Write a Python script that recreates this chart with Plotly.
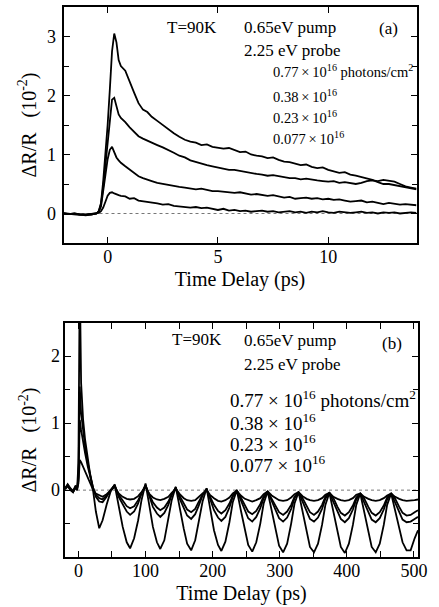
import plotly.graph_objects as go

# ---------------- Panel (a) data: time delay (ps) and dR/R (1e-2) ----------------
t_a = [-2.0, -1.75, -1.5, -1.25, -1.0, -0.75, -0.5,
       -0.4, -0.3, -0.2, -0.1, 0.0, 0.1, 0.2, 0.3, 0.4, 0.5, 0.6,
       0.8, 1.0, 1.2, 1.4, 1.6, 1.8, 2.0,
       2.25, 2.5, 2.75, 3.0, 3.25, 3.5, 3.75, 4.0, 4.25, 4.5, 4.75, 5.0,
       5.25, 5.5, 5.75, 6.0, 6.25, 6.5, 6.75, 7.0, 7.25, 7.5, 7.75, 8.0,
       8.25, 8.5, 8.75, 9.0, 9.25, 9.5, 9.75, 10.0, 10.25, 10.5, 10.75, 11.0,
       11.25, 11.5, 11.75, 12.0, 12.25, 12.5, 12.75, 13.0, 13.25, 13.5, 13.75, 14.0]

a_077 = [0.00, -0.01, 0.00, -0.02, -0.03, -0.02, 0.00,
         0.04, 0.18, 0.55, 1.0, 1.5, 2.1, 2.75, 3.05, 2.9, 2.6, 2.5,
         2.42, 2.22, 2.05, 1.87, 1.76, 1.72, 1.64,
         1.57, 1.5, 1.42, 1.36, 1.3, 1.25, 1.22, 1.2, 1.16, 1.17, 1.13, 1.12,
         1.1, 1.11, 1.07, 1.04, 1.05, 1.0, 0.98, 0.97, 0.94, 0.95, 0.91, 0.88,
         0.87, 0.84, 0.82, 0.83, 0.79, 0.77, 0.78, 0.74, 0.72, 0.69, 0.7, 0.66,
         0.64, 0.62, 0.6, 0.57, 0.53, 0.5, 0.5, 0.48, 0.47, 0.45, 0.43, 0.41]

a_038 = [0.00, -0.01, -0.01, -0.02, -0.02, -0.01, 0.00,
         0.04, 0.16, 0.45, 0.8, 1.2, 1.6, 1.93, 1.96, 1.8, 1.68, 1.62,
         1.55, 1.46, 1.38, 1.31, 1.27, 1.24, 1.2,
         1.16, 1.12, 1.08, 1.03, 0.98, 0.95, 0.9, 0.87, 0.84, 0.82, 0.8, 0.78,
         0.77, 0.74, 0.74, 0.72, 0.7, 0.69, 0.67, 0.66, 0.64, 0.65, 0.63, 0.62,
         0.6, 0.6, 0.58, 0.59, 0.57, 0.56, 0.55, 0.54, 0.55, 0.52, 0.53, 0.51,
         0.5, 0.52, 0.55, 0.56, 0.55, 0.57, 0.56, 0.54, 0.5, 0.46, 0.44, 0.42]

a_023 = [0.00, -0.01, 0.00, -0.02, -0.02, -0.02, 0.00,
         0.03, 0.12, 0.35, 0.65, 0.92, 1.08, 1.13, 1.05, 0.95, 0.9, 0.86,
         0.8, 0.74, 0.68, 0.63, 0.6, 0.57, 0.55,
         0.52, 0.5, 0.48, 0.46, 0.45, 0.44, 0.42, 0.41, 0.42, 0.4, 0.38, 0.38,
         0.37, 0.36, 0.35, 0.36, 0.34, 0.32, 0.33, 0.31, 0.3, 0.31, 0.29, 0.27,
         0.28, 0.25, 0.26, 0.27, 0.25, 0.26, 0.24, 0.25, 0.23, 0.24, 0.22, 0.2,
         0.21, 0.22, 0.19, 0.2, 0.18, 0.16, 0.18, 0.17, 0.15, 0.16, 0.15, 0.14]

a_0077 = [0.00, -0.01, -0.01, -0.02, -0.02, -0.01, 0.00,
          0.01, 0.04, 0.1, 0.2, 0.3, 0.35, 0.36, 0.34, 0.32, 0.31, 0.3,
          0.29, 0.25, 0.26, 0.22, 0.21, 0.2, 0.18,
          0.17, 0.15, 0.16, 0.13, 0.12, 0.12, 0.1, 0.11, 0.09, 0.1, 0.08, 0.06,
          0.08, 0.05, 0.06, 0.04, 0.05, 0.03, 0.04, 0.05, 0.03, 0.04, 0.02, 0.03,
          0.04, 0.02, 0.03, 0.01, 0.03, 0.02, 0.04, 0.02, 0.01, 0.03, 0.02, 0.01,
          0.02, 0.03, 0.01, 0.02, 0.0, 0.02, 0.01, 0.02, 0.0, 0.01, 0.02, 0.01]

# ---------------- Panel (b) data ----------------
t_b = [-20, -16, -12, -8, -4, -2, 0, 2, 4, 7, 10, 14, 18, 22, 26, 31, 36, 42, 48, 54,
       60, 66, 72, 77, 83, 89, 94, 100,
       106, 111, 117, 122, 128, 134, 139, 145,
       151, 157, 162, 168, 174, 179, 185, 191,
       196, 202, 208, 213, 219, 225, 230, 236,
       242, 248, 253, 259, 265, 271, 276, 282,
       288, 294, 299, 305, 311, 317, 322, 328,
       334, 340, 345, 351, 357, 363, 368, 374,
       380, 386, 391, 397, 403, 409, 414, 420,
       426, 432, 437, 443, 449, 455, 460, 466,
       472, 478, 483, 489, 495, 501, 506]

b_077 = [0.02, 0.07, 0.01, -0.03, 0.05, 0.0, 0.4, 3.2, 1.6, 1.05, 0.75, 0.45, 0.2, -0.02, -0.32, -0.57, -0.45, -0.22, -0.02, 0.08,
         -0.25, -0.55, -0.78, -0.87, -0.72, -0.45, -0.15, 0.1,
         -0.25, -0.55, -0.78, -0.88, -0.75, -0.45, -0.15, 0.05,
         -0.28, -0.58, -0.8, -0.9, -0.75, -0.47, -0.17, 0.03,
         -0.28, -0.6, -0.82, -0.91, -0.77, -0.48, -0.18, 0.0,
         -0.3, -0.6, -0.82, -0.92, -0.78, -0.5, -0.2, -0.02,
         -0.3, -0.62, -0.83, -0.93, -0.8, -0.5, -0.2, -0.03,
         -0.32, -0.63, -0.85, -0.93, -0.8, -0.52, -0.22, -0.04,
         -0.32, -0.63, -0.85, -0.94, -0.8, -0.52, -0.22, -0.05,
         -0.33, -0.64, -0.85, -0.93, -0.8, -0.52, -0.22, -0.05,
         -0.3, -0.58, -0.78, -0.9, -0.9, -0.72, -0.6]

b_038 = [0.03, 0.08, 0.02, -0.02, 0.06, 0.01, 0.2, 1.55, 1.15, 0.85, 0.65, 0.4, 0.2, 0.03, -0.1, -0.17, -0.18, -0.1, 0.0, 0.08,
         -0.1, -0.22, -0.32, -0.37, -0.32, -0.2, -0.05, 0.08,
         -0.12, -0.25, -0.35, -0.4, -0.34, -0.22, -0.07, 0.04,
         -0.13, -0.28, -0.38, -0.43, -0.36, -0.24, -0.08, 0.02,
         -0.14, -0.3, -0.41, -0.46, -0.4, -0.26, -0.1, 0.0,
         -0.15, -0.3, -0.42, -0.47, -0.4, -0.27, -0.12, -0.02,
         -0.16, -0.31, -0.42, -0.47, -0.41, -0.28, -0.12, -0.03,
         -0.17, -0.32, -0.43, -0.47, -0.41, -0.28, -0.13, -0.04,
         -0.17, -0.32, -0.43, -0.48, -0.42, -0.29, -0.14, -0.05,
         -0.18, -0.33, -0.44, -0.48, -0.42, -0.29, -0.14, -0.05,
         -0.18, -0.33, -0.44, -0.48, -0.47, -0.43, -0.4]

b_023 = [0.01, 0.06, 0.0, -0.03, 0.04, 0.0, 0.15, 1.05, 0.9, 0.7, 0.55, 0.35, 0.17, 0.03, -0.07, -0.12, -0.14, -0.08, 0.0, 0.07,
         -0.07, -0.16, -0.24, -0.27, -0.24, -0.15, -0.04, 0.07,
         -0.08, -0.18, -0.26, -0.3, -0.26, -0.17, -0.06, 0.03,
         -0.09, -0.2, -0.29, -0.33, -0.28, -0.18, -0.07, 0.01,
         -0.1, -0.22, -0.31, -0.35, -0.3, -0.2, -0.08, -0.01,
         -0.11, -0.23, -0.32, -0.36, -0.31, -0.21, -0.09, -0.02,
         -0.12, -0.24, -0.33, -0.37, -0.32, -0.22, -0.1, -0.03,
         -0.12, -0.24, -0.33, -0.37, -0.32, -0.22, -0.1, -0.04,
         -0.12, -0.25, -0.34, -0.38, -0.33, -0.23, -0.11, -0.05,
         -0.13, -0.25, -0.34, -0.38, -0.33, -0.23, -0.11, -0.05,
         -0.13, -0.25, -0.34, -0.38, -0.37, -0.33, -0.3]

b_0077 = [0.02, 0.09, 0.03, -0.01, 0.07, 0.02, 0.1, 0.45, 0.42, 0.35, 0.28, 0.18, 0.08, 0.0, -0.05, -0.08, -0.1, -0.06, 0.0, 0.05,
          -0.05, -0.1, -0.13, -0.14, -0.13, -0.09, -0.03, 0.05,
          -0.06, -0.11, -0.14, -0.15, -0.13, -0.1, -0.04, 0.02,
          -0.06, -0.12, -0.15, -0.16, -0.15, -0.11, -0.05, 0.0,
          -0.07, -0.12, -0.16, -0.17, -0.15, -0.11, -0.05, -0.01,
          -0.08, -0.13, -0.15, -0.17, -0.15, -0.12, -0.06, -0.02,
          -0.08, -0.12, -0.15, -0.16, -0.15, -0.11, -0.06, -0.03,
          -0.09, -0.13, -0.15, -0.16, -0.15, -0.12, -0.07, -0.04,
          -0.1, -0.13, -0.15, -0.16, -0.15, -0.12, -0.07, -0.05,
          -0.1, -0.13, -0.15, -0.16, -0.15, -0.12, -0.08, -0.05,
          -0.1, -0.13, -0.15, -0.16, -0.16, -0.15, -0.14]

for s in (a_077, a_038, a_023, a_0077):
    assert len(s) == len(t_a), len(s)
for s in (b_077, b_038, b_023, b_0077):
    assert len(s) == len(t_b), len(s)

fluences = ["0.77", "0.38", "0.23", "0.077"]

# y tick labels shown in the reference
yticks_a = [0, 1, 2, 3]
yticks_b = [0, 1, 2]

FONT = "Liberation Serif, Times New Roman, serif"
W, H = 439, 607

def px(x):
    return x / W

def py(y):
    return 1 - y / H

fig = go.Figure()
line = dict(color="black", width=1.8)
for name, ys in zip(fluences, (a_077, a_038, a_023, a_0077)):
    fig.add_trace(go.Scatter(x=t_a, y=ys, mode="lines", line=line, name=name,
                             xaxis="x", yaxis="y", showlegend=False))
for name, ys in zip(fluences, (b_077, b_038, b_023, b_0077)):
    fig.add_trace(go.Scatter(x=t_b, y=ys, mode="lines", line=line, name=name,
                             xaxis="x2", yaxis="y2", showlegend=False))

axis_common = dict(showline=True, linewidth=2, linecolor="black", mirror="allticks",
                   ticks="inside", tickwidth=1.3, tickcolor="black", ticklen=6,
                   showgrid=False, zeroline=False,
                   tickfont=dict(family=FONT, size=18, color="black"))

ytitle = "\u0394R/R\u00a0\u00a0 (10<sup>-2</sup>)"
xtitle = "Time Delay (ps)"
minor_y = dict(dtick=0.5, ticks="inside", ticklen=5, tickcolor="black", tickwidth=1.3)

fig.update_layout(
    width=W, height=H,
    margin=dict(l=0, r=0, t=0, b=0),
    paper_bgcolor="white", plot_bgcolor="white",
    font=dict(family=FONT, color="black"),
    xaxis=dict(domain=[px(63.5), px(416.5)], range=[-2, 14], dtick=5, tick0=0,
               anchor="y", automargin=False, ticklabelstandoff=-4,
               title=dict(text=xtitle, font=dict(family=FONT, size=20), standoff=6),
               **axis_common),
    yaxis=dict(domain=[py(243), py(7)], range=[-0.5, 3.5], dtick=1, tick0=0,
               anchor="x", automargin=False, showticklabels=False, minor=minor_y,
               title=dict(text=ytitle, font=dict(family=FONT, size=20), standoff=20),
               **axis_common),
    xaxis2=dict(domain=[px(65), px(418)], range=[-20, 506], dtick=100, tick0=0,
                anchor="y2", automargin=False, ticklabelstandoff=-4,
                minor=dict(dtick=50, ticks="inside", ticklen=6, tickcolor="black", tickwidth=1.3),
                title=dict(text=xtitle, font=dict(family=FONT, size=20), standoff=6),
                **axis_common),
    yaxis2=dict(domain=[py(557), py(323)], range=[-1, 2.5], dtick=1, tick0=0,
                anchor="x2", automargin=False, showticklabels=False, minor=minor_y,
                title=dict(text=ytitle, font=dict(family=FONT, size=20), standoff=21),
                **axis_common),
)

# y tick labels placed on the axes' own scale, right-aligned next to the frame
for v in yticks_a:
    fig.add_annotation(text=str(v), x=px(57.5), xref="paper", y=v, yref="y",
                       xanchor="right", yanchor="middle", showarrow=False,
                       font=dict(family=FONT, size=18, color="black"))
for v in yticks_b:
    fig.add_annotation(text=str(v), x=px(62), xref="paper", y=v, yref="y2",
                       xanchor="right", yanchor="middle", showarrow=False,
                       font=dict(family=FONT, size=18, color="black"))

# dotted zero lines
for xr, yr in (("x domain", "y"), ("x2 domain", "y2")):
    fig.add_shape(type="line", xref=xr, yref=yr, x0=0, x1=1, y0=0, y1=0,
                  line=dict(color="#777777", width=1, dash="dot"), layer="below")

def ann(text, x, y, size, xanchor="left"):
    fig.add_annotation(text=text, x=px(x), y=py(y), xref="paper", yref="paper",
                       xanchor=xanchor, yanchor="middle", showarrow=False,
                       font=dict(family=FONT, size=size, color="black"))

TS = "\u2009"  # thin space
# panel (a) labels
ann("T=90K", 165, 28, 17)
ann("0.65eV pump", 242, 28, 17)
ann("(a)", 388, 29, 17, "center")
ann("2.25 eV probe", 242, 50, 17)
ann("0.77" + TS + "\u00d7" + TS + "10<sup>16</sup> photons/cm<sup>2</sup>", 271, 71, 14.5)
ann("0.38" + TS + "\u00d7" + TS + "10<sup>16</sup>", 271, 96, 14.5)
ann("0.23" + TS + "\u00d7" + TS + "10<sup>16</sup>", 271, 117, 14.5)
ann("0.077" + TS + "\u00d7" + TS + "10<sup>16</sup>", 271, 138, 14.5)

# panel (b) labels
ann("T=90K", 170, 339, 17)
ann("0.65eV pump", 242, 340, 17)
ann("(b)", 392, 343, 17, "center")
ann("2.25 eV probe", 242, 364, 17)
ann("0.77 \u00d7 10<sup>16</sup> photons/cm<sup>2</sup>", 228, 399, 19)
ann("0.38 \u00d7 10<sup>16</sup>", 228, 422, 19)
ann("0.23 \u00d7 10<sup>16</sup>", 228, 443, 19)
ann("0.077 \u00d7 10<sup>16</sup>", 228, 464, 19)

fig.write_html("out.html")
